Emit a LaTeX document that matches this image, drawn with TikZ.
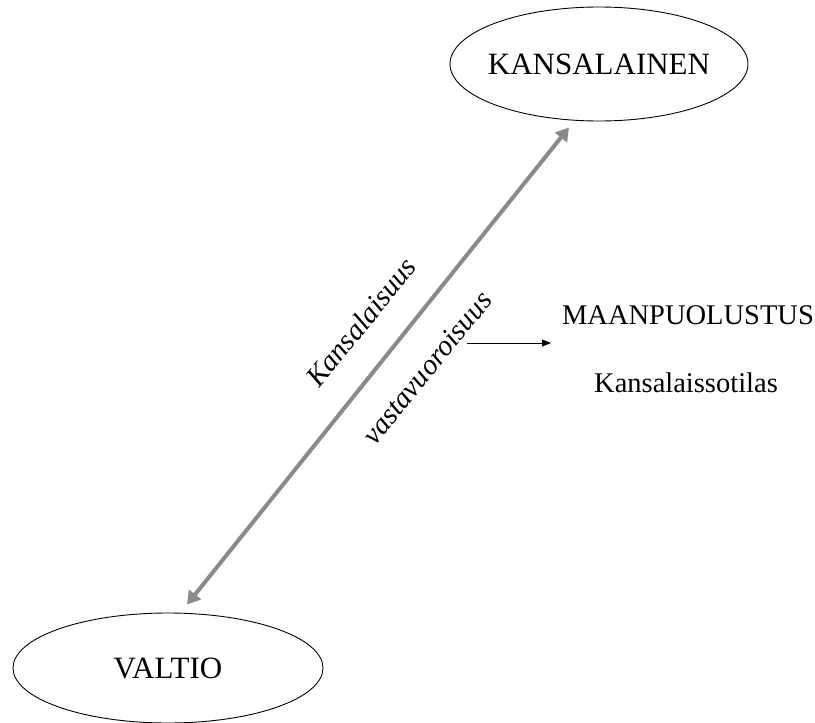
\documentclass[tikz,border=0pt]{standalone}
\usepackage{fontspec}
\setmainfont{Liberation Serif}
\usepackage{tikz}
\usetikzlibrary{arrows.meta,shapes.geometric}
\definecolor{linkgray}{RGB}{138,138,138}
\tikzstyle{party}=[ellipse,draw=black,line width=0.9pt,inner sep=0pt,font=\fontsize{31}{36}\selectfont]
\tikzstyle{relation} = [draw=linkgray,line width=4pt,{Triangle[width=15pt,length=13pt]}-{Triangle[width=15pt,length=13pt]}]
\tikzstyle{pointer} = [draw,line width=0.8pt,-{Triangle[width=7pt,length=9pt]}]
\tikzstyle{slanted} = [font=\fontsize{29}{34}\selectfont\itshape,rotate=51,inner sep=0pt]
\tikzstyle{plain} = [font=\fontsize{28.5}{34}\selectfont,inner sep=0pt]

\begin{document}
\begin{tikzpicture}[x=1pt,y=-1pt]
    \useasboundingbox (0,0) rectangle (815,723);
    \node[party,inner xsep=-8pt,minimum width=298pt,minimum height=114pt] (kansalainen) at (599,64) {KANSALAINEN};
    \node[party,minimum width=310pt,minimum height=110pt] (valtio) at (168,668) {VALTIO};
    \path[relation] ([xshift=19pt,yshift=8pt]valtio.north) -- ([xshift=-30pt,yshift=-6pt]kansalainen.south);
    \node[slanted] (kansalaisuus) at (361,322) {Kansalaisuus};
    \node[slanted] (vastavuoroisuus) at (427,368) {vastavuoroisuus};
    \node[plain] (maanpuolustus) at (688,315) {MAANPUOLUSTUS};
    \node[plain] (sotilas) at (686,383) {Kansalaissotilas};
    \coordinate (tail) at (467,343);
    \coordinate (head) at (551,343);
    \path[pointer] (tail) -- (head);
\end{tikzpicture}
\end{document}
